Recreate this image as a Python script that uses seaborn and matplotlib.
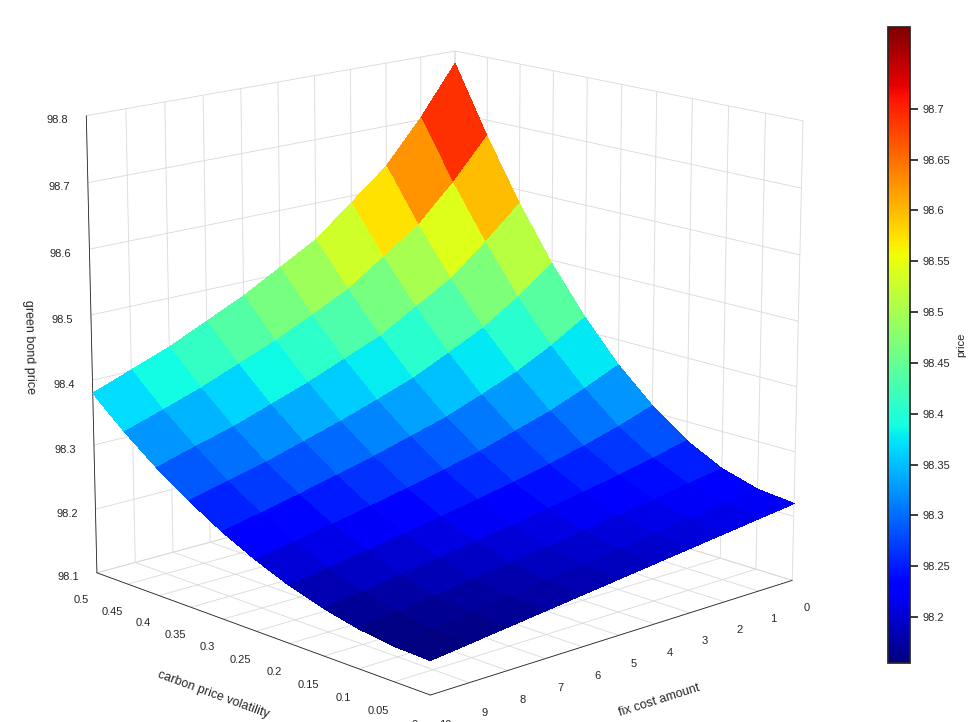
import numpy as np
import matplotlib
matplotlib.use("Agg")
import matplotlib.pyplot as plt
import seaborn as sns

sns.set_theme(style="white")
plt.rcParams['font.family'] = ['Liberation Sans', 'DejaVu Sans']

volatility = [0.0, 0.05, 0.1, 0.15, 0.2, 0.25, 0.3, 0.35, 0.4, 0.45, 0.5]
fix_cost = [0, 1, 2, 3, 4, 5, 6, 7, 8, 9, 10]
# rows: volatility, columns: fix cost
price = [
    [98.220, 98.213, 98.206, 98.199, 98.192, 98.185, 98.178, 98.171, 98.164, 98.157, 98.150],
    [98.226, 98.218, 98.210, 98.203, 98.196, 98.188, 98.181, 98.174, 98.167, 98.159, 98.152],
    [98.242, 98.233, 98.223, 98.215, 98.206, 98.198, 98.190, 98.182, 98.174, 98.167, 98.159],
    [98.270, 98.257, 98.245, 98.234, 98.224, 98.214, 98.205, 98.196, 98.187, 98.179, 98.171],
    [98.310, 98.291, 98.275, 98.261, 98.248, 98.237, 98.226, 98.216, 98.206, 98.196, 98.187],
    [98.360, 98.336, 98.314, 98.297, 98.280, 98.266, 98.253, 98.241, 98.229, 98.218, 98.208],
    [98.422, 98.389, 98.361, 98.339, 98.318, 98.302, 98.286, 98.272, 98.258, 98.245, 98.233],
    [98.494, 98.453, 98.417, 98.390, 98.364, 98.344, 98.325, 98.308, 98.291, 98.277, 98.263],
    [98.578, 98.527, 98.481, 98.449, 98.416, 98.393, 98.370, 98.350, 98.330, 98.314, 98.297],
    [98.674, 98.610, 98.554, 98.515, 98.476, 98.448, 98.421, 98.398, 98.375, 98.355, 98.336],
    [98.780, 98.703, 98.636, 98.589, 98.542, 98.510, 98.478, 98.451, 98.424, 98.402, 98.380],
]

V, C = np.meshgrid(volatility, fix_cost, indexing="ij")
Z = np.array(price)

fig = plt.figure(figsize=(9.74, 7.22), dpi=100)
ax = fig.add_axes([-0.03, -0.02, 0.95, 1.04], projection="3d")
surf = ax.plot_surface(V, C, Z, cmap="jet", vmin=98.155, vmax=98.78,
                       rstride=1, cstride=1, linewidth=0, antialiased=False, shade=False)

ax.set_xlim(0.5, 0)
ax.set_ylim(10, 0)
ax.set_zlim(98.1, 98.8)
ax.set_xticks(np.arange(0, 0.51, 0.05))
ax.set_xticklabels(["0", "0.05", "0.1", "0.15", "0.2", "0.25", "0.3", "0.35", "0.4", "0.45", "0.5"])
ax.set_yticks(range(0, 11))
ax.set_zticks([98.1, 98.2, 98.3, 98.4, 98.5, 98.6, 98.7, 98.8])
ax.tick_params(labelsize=8, length=0)
ax.set_xlabel("carbon price volatility", fontsize=9, labelpad=10)
ax.set_ylabel("fix cost amount", fontsize=9, labelpad=10)
ax.set_zlabel("green bond price", fontsize=9)
for a in (ax.xaxis, ax.yaxis, ax.zaxis):
    a.set_pane_color((1, 1, 1, 1))
    a._axinfo["grid"]["color"] = (0.85, 0.85, 0.85, 1)
    a._axinfo["grid"]["linewidth"] = 0.6
    a._axinfo["tick"]["inward_factor"] = 0
    a._axinfo["tick"]["outward_factor"] = 0
    a.line.set_linewidth(0.6)
ax.zaxis._axinfo["juggled"] = (1, 2, 0)
ax.set_box_aspect((1, 1, 0.95), zoom=1.1)
ax.view_init(elev=15, azim=-43)

cax = fig.add_axes([0.912, 0.082, 0.022, 0.88])
cb = fig.colorbar(surf, cax=cax)
cb.set_ticks([98.2, 98.25, 98.3, 98.35, 98.4, 98.45, 98.5, 98.55, 98.6, 98.65, 98.7])
cb.set_ticklabels(["98.2", "98.25", "98.3", "98.35", "98.4", "98.45", "98.5", "98.55", "98.6", "98.65", "98.7"])
cb.ax.tick_params(labelsize=8)
cb.set_label("price", fontsize=8)

fig.savefig("out.png", dpi=100)
